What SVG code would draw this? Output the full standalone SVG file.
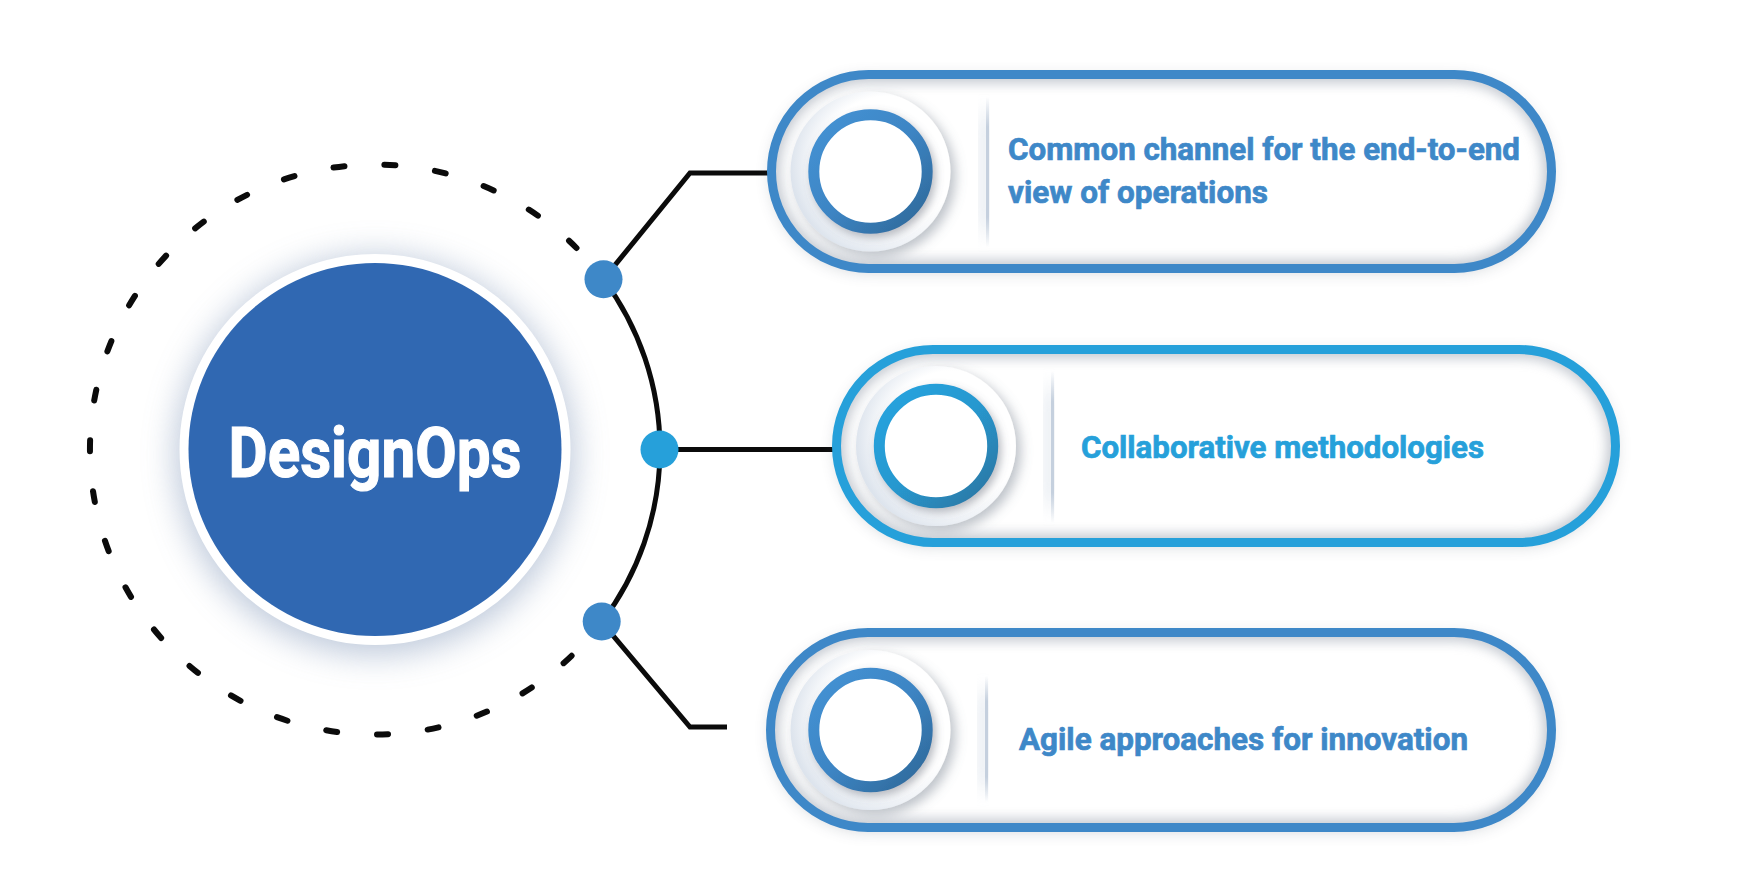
<svg xmlns="http://www.w3.org/2000/svg" width="1754" height="894" viewBox="0 0 1754 894">
<style>
.line{fill:none;stroke:#0b0b0b;stroke-width:5;stroke-linejoin:miter}
.dash{fill:none;stroke:#0b0b0b;stroke-width:6;stroke-linecap:round}
.lbl{font-family:Roboto,"Liberation Sans",sans-serif;font-weight:700;font-size:32px;stroke-width:0.7}
.c1{fill:#3e88c8;stroke:#3e88c8}
.c2{fill:#26a0da;stroke:#26a0da}
.pillfill{fill:#ffffff}
.pillshadow{fill:#5a6270;opacity:.28}
.inner{fill:none;stroke:#9aa2af;stroke-width:18;opacity:.55}
</style>
<defs>
<filter id="blur8" x="-20%" y="-40%" width="140%" height="180%"><feGaussianBlur stdDeviation="8"/></filter>
<filter id="blur6" x="-20%" y="-40%" width="140%" height="180%"><feGaussianBlur stdDeviation="6"/></filter>
<filter id="glow" x="-40%" y="-40%" width="180%" height="180%"><feGaussianBlur stdDeviation="16"/></filter>
<filter id="wellsh" x="-30%" y="-30%" width="160%" height="160%"><feDropShadow dx="5" dy="5" stdDeviation="6" flood-color="#6f7888" flood-opacity="0.45"/></filter>
<filter id="ringsh" x="-30%" y="-30%" width="160%" height="160%"><feDropShadow dx="3" dy="4" stdDeviation="4" flood-color="#5d6675" flood-opacity="0.45"/></filter>
<linearGradient id="ring1" x1="0" y1="0" x2="1" y2="1"><stop offset="0" stop-color="#4593d5"/><stop offset="0.5" stop-color="#3d85c4"/><stop offset="1" stop-color="#2e6797"/></linearGradient>
<linearGradient id="ring2" x1="0" y1="0" x2="1" y2="1"><stop offset="0" stop-color="#28a4e0"/><stop offset="0.5" stop-color="#2898cf"/><stop offset="1" stop-color="#2a74a0"/></linearGradient>
<radialGradient id="well" cx="0.6" cy="0.45" r="0.6"><stop offset="0.7" stop-color="#ffffff"/><stop offset="1" stop-color="#dde4ed"/></radialGradient>
<linearGradient id="sep" x1="0" y1="0" x2="0" y2="1"><stop offset="0" stop-color="#c5d0de" stop-opacity="0"/><stop offset="0.2" stop-color="#c5d0de"/><stop offset="0.8" stop-color="#c5d0de"/><stop offset="1" stop-color="#c5d0de" stop-opacity="0"/></linearGradient>
<clipPath id="cp1"><rect x="771.5" y="74.5" width="780" height="194" rx="97"/></clipPath>
<clipPath id="cp2"><rect x="836.5" y="349.5" width="779" height="193" rx="96.5"/></clipPath>
<clipPath id="cp3"><rect x="770.5" y="632.5" width="781" height="195" rx="97.5"/></clipPath>
</defs>
<rect width="1754" height="894" fill="#ffffff"/>

<g id="center-node">
<circle cx="375" cy="455" r="200" fill="#a9b8cf" opacity="0.75" filter="url(#glow)"/>
<circle cx="375" cy="449.5" r="195.5" fill="#ffffff"/>
<circle cx="375" cy="449.5" r="186.5" fill="#3068b2"/>
<text x="375" y="477" text-anchor="middle" font-family="Roboto,'Liberation Sans',sans-serif" font-weight="700" font-size="70" fill="#ffffff" stroke="#ffffff" stroke-width="1.2" textLength="293" lengthAdjust="spacingAndGlyphs">DesignOps</text>
</g>

<g id="connectors">
<path class="dash" d="M571.6 655.8 A285 285 0 1 1 576.5 248" stroke-dasharray="11 39.97"/>
<path class="line" d="M603.5 279.2 A285 285 0 0 1 601.7 622.2"/>
<polyline class="line" points="603.5,279.2 690,173 772,173"/>
<polyline class="line" points="660,449.5 836,449.5"/>
<polyline class="line" points="601.7,622.2 690,727 727,727"/>
<circle cx="603.5" cy="279.2" r="19" fill="#3e88c8"/>
<circle cx="659.5" cy="449.5" r="19" fill="#26a0da"/>
<circle cx="601.7" cy="621.5" r="19" fill="#3e88c8"/>
</g>

<g id="node-1">
<rect class="pillshadow" x="771.5" y="77.5" width="780" height="194" rx="97" filter="url(#blur8)"/>
<rect class="pillfill" x="771.5" y="74.5" width="780" height="194" rx="97"/>
<g clip-path="url(#cp1)"><rect class="inner" x="771.5" y="74.5" width="780" height="194" rx="97" filter="url(#blur6)"/></g>
<rect x="980" y="100" width="8" height="146" fill="url(#sep)" opacity="0.5" filter="url(#blur6)"/>
<rect x="986" y="97" width="3" height="150" fill="url(#sep)"/>
<circle cx="870.5" cy="171.5" r="80" fill="url(#well)" filter="url(#wellsh)"/>
<circle cx="870.5" cy="171.5" r="56.7" fill="#ffffff" stroke="url(#ring1)" stroke-width="11" filter="url(#ringsh)"/>
<rect x="771.5" y="74.5" width="780" height="194" rx="97" fill="none" stroke="#3e88c8" stroke-width="9"/>
<text class="lbl c1" x="1008" y="160" textLength="512" lengthAdjust="spacingAndGlyphs">Common channel for the end-to-end</text>
<text class="lbl c1" x="1008" y="203" textLength="260" lengthAdjust="spacingAndGlyphs">view of operations</text>
</g>

<g id="node-2">
<rect class="pillshadow" x="836.5" y="352.5" width="779" height="193" rx="96.5" filter="url(#blur8)"/>
<rect class="pillfill" x="836.5" y="349.5" width="779" height="193" rx="96.5"/>
<g clip-path="url(#cp2)"><rect class="inner" x="836.5" y="349.5" width="779" height="193" rx="96.5" filter="url(#blur6)"/></g>
<rect x="1045" y="374" width="8" height="146" fill="url(#sep)" opacity="0.5" filter="url(#blur6)"/>
<rect x="1051" y="371" width="3" height="152" fill="url(#sep)"/>
<circle cx="936" cy="446" r="80" fill="url(#well)" filter="url(#wellsh)"/>
<circle cx="936" cy="446" r="56.7" fill="#ffffff" stroke="url(#ring2)" stroke-width="11" filter="url(#ringsh)"/>
<rect x="836.5" y="349.5" width="779" height="193" rx="96.5" fill="none" stroke="#26a0da" stroke-width="9"/>
<text class="lbl c2" x="1081" y="458" textLength="403" lengthAdjust="spacingAndGlyphs">Collaborative methodologies</text>
</g>

<g id="node-3">
<rect class="pillshadow" x="770.5" y="635.5" width="781" height="195" rx="97.5" filter="url(#blur8)"/>
<rect class="pillfill" x="770.5" y="632.5" width="781" height="195" rx="97.5"/>
<g clip-path="url(#cp3)"><rect class="inner" x="770.5" y="632.5" width="781" height="195" rx="97.5" filter="url(#blur6)"/></g>
<rect x="979" y="680" width="8" height="120" fill="url(#sep)" opacity="0.5" filter="url(#blur6)"/>
<rect x="985" y="676" width="3" height="126" fill="url(#sep)"/>
<circle cx="870.5" cy="730" r="80" fill="url(#well)" filter="url(#wellsh)"/>
<circle cx="870.5" cy="730" r="56.7" fill="#ffffff" stroke="url(#ring1)" stroke-width="11" filter="url(#ringsh)"/>
<rect x="770.5" y="632.5" width="781" height="195" rx="97.5" fill="none" stroke="#3e88c8" stroke-width="9"/>
<text class="lbl c1" x="1019" y="750" textLength="449" lengthAdjust="spacingAndGlyphs">Agile approaches for innovation</text>
</g>
</svg>
